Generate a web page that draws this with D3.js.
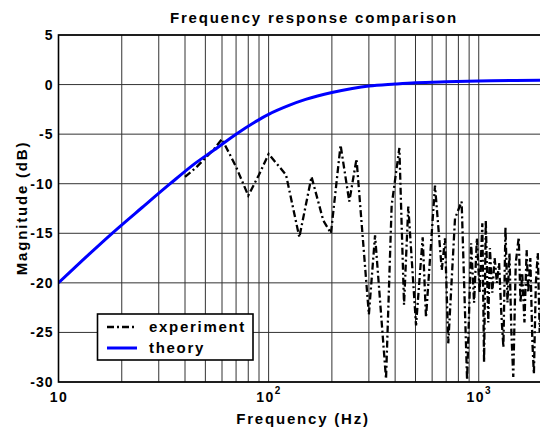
<!DOCTYPE html>
<html>
<head>
  <meta charset="utf-8">
  <title>Frequency response comparison</title>
  <script src="https://d3js.org/d3.v7.min.js"></script>
  <style>
    body { margin: 0; background: #fff; }
    text { font-family: "Liberation Sans", Arial, sans-serif; font-weight: bold; }
  </style>
</head>
<body>

<div id="chart"></div>

<script>
// theory curve (Hz, dB)
const theoryFreq = [10, 14, 18, 25, 34, 45, 55, 70, 85, 100, 125, 150, 200, 250, 300, 400, 500, 700, 1000, 1500, 2000];
const theoryMag = [-20, -17.1, -15, -12.4, -10, -7.9, -6.6, -5, -3.85, -3.0, -2.1, -1.5, -0.8, -0.4, -0.15, 0.05, 0.18, 0.28, 0.35, 0.42, 0.45];

// measured curve (Hz, dB)
const expFreq = [40, 45, 50, 55, 60, 70, 80, 90, 100, 121, 140, 160, 182, 198, 220, 242, 262, 300, 321, 362,
  385, 419, 441, 462, 503, 541, 561, 619, 667, 691, 716, 771, 829, 880, 920, 950, 980, 1010, 1040, 1060,
  1080, 1110, 1130, 1160, 1190, 1220, 1250, 1280, 1310, 1340, 1370, 1400, 1430, 1460, 1500, 1550, 1580,
  1610, 1650, 1690, 1720, 1760, 1800, 1830, 1870, 1910, 1950, 2000];
const expMag = [-9.3, -8.4, -7.4, -6.5, -5.5, -8.3, -11.2, -9.1, -7.0, -9.1, -15.4, -9.3, -13.7, -15.0, -6.1, -11.8, -7.5, -23.2, -15.2, -29.7,
  -12.2, -6.4, -22.2, -12.3, -24.3, -15.4, -23.5, -10.2, -18.7, -15.5, -26.1, -13.5, -11.8, -29.8, -16.0, -22.0, -15.5, -21.0, -14.0, -28.0,
  -13.7, -24.0, -16.5, -21.0, -17.5, -20.0, -18.0, -23.0, -26.5, -14.4, -22.0, -17.0, -25.0, -29.5, -18.0, -15.4, -22.0,
  -19.0, -24.0, -16.7, -21.0, -17.5, -26.0, -29.2, -20.0, -17.0, -25.0, -20.8];

const xTickValues = [10, 100, 1000];
const xTickBase = ["10", "10", "10"];
const xTickExp = ["", "2", "3"];
const yTickValues = [5, 0, -5, -10, -15, -20, -25, -30];

const W = 540, H = 430;
const pLeft = 58.5, pRight = 542, pTop = 35, pBottom = 382;

const svg = d3.select("#chart")
  .append("svg")
  .attr("width", W)
  .attr("height", H);

const x = d3.scaleLog()
  .domain([10, 2000])
  .range([pLeft, pRight]);

const y = d3.scaleLinear()
  .domain([-30, 5])
  .range([pBottom, pTop]);

svg.append("defs").append("clipPath")
  .attr("id", "plot")
  .append("rect")
  .attr("x", pLeft).attr("y", pTop)
  .attr("width", pRight - pLeft).attr("height", pBottom - pTop);

// grid lines
svg.append("g")
  .selectAll("line")
  .data(x.ticks())
  .join("line")
  .attr("x1", d => x(d)).attr("x2", d => x(d))
  .attr("y1", pTop).attr("y2", pBottom)
  .attr("stroke", "#333")
  .attr("stroke-width", 1);

svg.append("g")
  .selectAll("line")
  .data(yTickValues)
  .join("line")
  .attr("x1", pLeft).attr("x2", pRight)
  .attr("y1", d => y(d)).attr("y2", d => y(d))
  .attr("stroke", "#333")
  .attr("stroke-width", 1);

// curves
const plot = svg.append("g").attr("clip-path", "url(#plot)");

const expLine = d3.line()
  .x((d, i) => x(expFreq[i]))
  .y(d => y(d));

plot.append("path")
  .datum(expMag)
  .attr("fill", "none")
  .attr("stroke", "#000")
  .attr("stroke-width", 2.3)
  .attr("stroke-dasharray", "7,3,2,3")
  .attr("d", expLine);

const theoryLine = d3.line()
  .x((d, i) => x(theoryFreq[i]))
  .y(d => y(d))
  .curve(d3.curveMonotoneX);

plot.append("path")
  .datum(theoryMag)
  .attr("fill", "none")
  .attr("stroke", "#0000ff")
  .attr("stroke-width", 3)
  .attr("d", theoryLine);

// axes box
svg.append("rect")
  .attr("x", pLeft).attr("y", pTop)
  .attr("width", pRight - pLeft).attr("height", pBottom - pTop)
  .attr("fill", "none")
  .attr("stroke", "#000")
  .attr("stroke-width", 1.6);

// x axis labels
const xAxis = svg.append("g")
  .attr("transform", `translate(0,${pBottom})`)
  .call(d3.axisBottom(x).tickValues(xTickValues).tickSize(0).tickPadding(0).tickFormat(""));
xAxis.select(".domain").remove();
xAxis.selectAll(".tick text").each(function(d, i) {
  const t = d3.select(this)
    .attr("y", 20)
    .attr("dy", 0)
    .attr("font-size", 14)
    .attr("letter-spacing", 1.5)
    .attr("fill", "#000")
    .text(xTickBase[i]);
  if (xTickExp[i]) {
    t.append("tspan")
      .attr("dy", -8)
      .attr("font-size", 10)
      .text(xTickExp[i]);
  }
});

// y axis labels
const yAxis = svg.append("g")
  .attr("transform", `translate(${pLeft},0)`)
  .call(d3.axisLeft(y).tickValues(yTickValues).tickSize(0).tickPadding(5).tickFormat(d => String(d)));
yAxis.select(".domain").remove();
yAxis.selectAll(".tick text")
  .attr("font-size", 14)
  .attr("letter-spacing", 1)
  .attr("fill", "#000");

// titles
svg.append("text")
  .attr("x", 314).attr("y", 23)
  .attr("text-anchor", "middle")
  .attr("font-size", 15)
  .attr("letter-spacing", 1.8)
  .text("Frequency response comparison");

svg.append("text")
  .attr("x", 303).attr("y", 424)
  .attr("text-anchor", "middle")
  .attr("font-size", 15)
  .attr("letter-spacing", 1.8)
  .text("Frequency (Hz)");

svg.append("text")
  .attr("transform", `translate(27,208) rotate(-90)`)
  .attr("text-anchor", "middle")
  .attr("font-size", 15)
  .attr("letter-spacing", 1.8)
  .text("Magnitude (dB)");

// legend
const legend = svg.append("g");
legend.append("rect")
  .attr("x", 97.5).attr("y", 314)
  .attr("width", 155.5).attr("height", 46)
  .attr("fill", "#fff")
  .attr("stroke", "#000")
  .attr("stroke-width", 1.6);

legend.append("line")
  .attr("x1", 107).attr("x2", 137)
  .attr("y1", 327).attr("y2", 327)
  .attr("stroke", "#000")
  .attr("stroke-width", 2.3)
  .attr("stroke-dasharray", "7,3,2,3");

legend.append("line")
  .attr("x1", 107).attr("x2", 137)
  .attr("y1", 348).attr("y2", 348)
  .attr("stroke", "#0000ff")
  .attr("stroke-width", 3);

legend.append("text")
  .attr("x", 149).attr("y", 332)
  .attr("font-size", 15)
  .attr("letter-spacing", 1.7)
  .text("experiment");

legend.append("text")
  .attr("x", 149).attr("y", 353)
  .attr("font-size", 15)
  .attr("letter-spacing", 1.7)
  .text("theory");
</script>

</body>
</html>
